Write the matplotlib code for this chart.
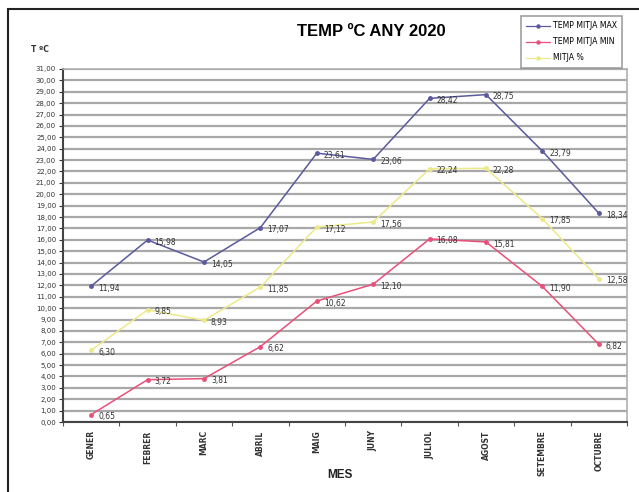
import matplotlib
matplotlib.use("Agg")
import matplotlib.pyplot as plt
from matplotlib.patches import Rectangle
from matplotlib.lines import Line2D

months = ["GENER", "FEBRER", "MARC", "ABRIL", "MAIG", "JUNY", "JULIOL", "AGOST", "SETEMBRE", "OCTUBRE"]
temp_max = [11.94, 15.98, 14.05, 17.07, 23.61, 23.06, 28.42, 28.75, 23.79, 18.34]
temp_min = [0.65, 3.72, 3.81, 6.62, 10.62, 12.10, 16.08, 15.81, 11.90, 6.82]
temp_avg = [6.30, 9.85, 8.93, 11.85, 17.12, 17.56, 22.24, 22.28, 17.85, 12.58]
series_names = ["TEMP MITJA MAX", "TEMP MITJA MIN", "MITJA %"]
colors = ["#5a5a9c", "#e8507a", "#ece98a"]
yticks = list(range(0, 32))

W, H = 639, 492
fig = plt.figure(figsize=(W / 100, H / 100), dpi=100)
fig.patch.set_facecolor("white")

# outer frame (left and top visible)
fig.add_artist(Rectangle((8 / W, -0.1), 1.2, (1 - 9 / H) + 0.1, transform=fig.transFigure,
                         fill=False, edgecolor="#222222", linewidth=1.5))

left, right, top, bottom = 63, 627, 69, 422
ax = fig.add_axes([left / W, 1 - bottom / H, (right - left) / W, (bottom - top) / H])

x = list(range(len(months)))
for vals, c, name in zip([temp_max, temp_min, temp_avg], colors, series_names):
    ax.plot(x, vals, color=c, linewidth=1.1, marker="o", markersize=2.5, label=name, zorder=3)
    for xi, v in zip(x, vals):
        ax.annotate(f"{v:.2f}".replace(".", ","), (xi, v), xytext=(5, -1.5), textcoords="offset points",
                    fontsize=5.5, color="#333333", va="center", ha="left", zorder=4)

ax.set_xlim(-0.5, len(months) - 0.5)
ax.set_ylim(0, 31)
ax.set_yticks(yticks)
ax.set_yticklabels([f"{v:.2f}".replace(".", ",") for v in yticks], fontsize=5)
ax.set_xticks(x)
ax.set_xticklabels(months, rotation=90, fontsize=5.5, fontweight="bold", color="#333333")
ax.tick_params(axis="y", length=3, width=0.8, pad=2, colors="#333333")
ax.tick_params(axis="x", length=0, pad=6)
ax.set_xticks([i - 0.5 for i in range(len(months) + 1)], minor=True)
ax.tick_params(axis="x", which="minor", length=3, width=0.8, color="#555555")
ax.grid(axis="y", color="#a8a8a8", linewidth=1.6, zorder=0)
ax.set_axisbelow(True)
for s in ["top", "right"]:
    ax.spines[s].set_color("#b0b0b0")
    ax.spines[s].set_linewidth(1.2)
for s in ["left", "bottom"]:
    ax.spines[s].set_color("#444444")
    ax.spines[s].set_linewidth(1.5)

fig.text(371 / W, 1 - 31 / H, "TEMP ºC ANY 2020", ha="center", va="center", fontsize=12, fontweight="bold",
         family="Liberation Sans")
fig.text(40 / W, 1 - 49 / H, "T ºC", ha="center", va="center", fontsize=5.5, fontweight="bold", color="#333333")
fig.text(340 / W, 1 - 475 / H, "MES", ha="center", va="center", fontsize=8.5, fontweight="bold",
         family="Liberation Sans", color="#222222")

handles = [Line2D([0], [0], color=c, linewidth=0.9, marker="o", markersize=2.2) for c in colors]
leg = fig.legend(handles, series_names, loc="upper left", bbox_to_anchor=(521 / W, 1 - 16 / H),
                 fontsize=5.6, frameon=True, fancybox=False, edgecolor="#888888", handlelength=3.0,
                 borderpad=0.7, labelspacing=0.9, handletextpad=0.4, borderaxespad=0)
leg.get_frame().set_linewidth(1.2)

fig.savefig("out.png", dpi=100)
